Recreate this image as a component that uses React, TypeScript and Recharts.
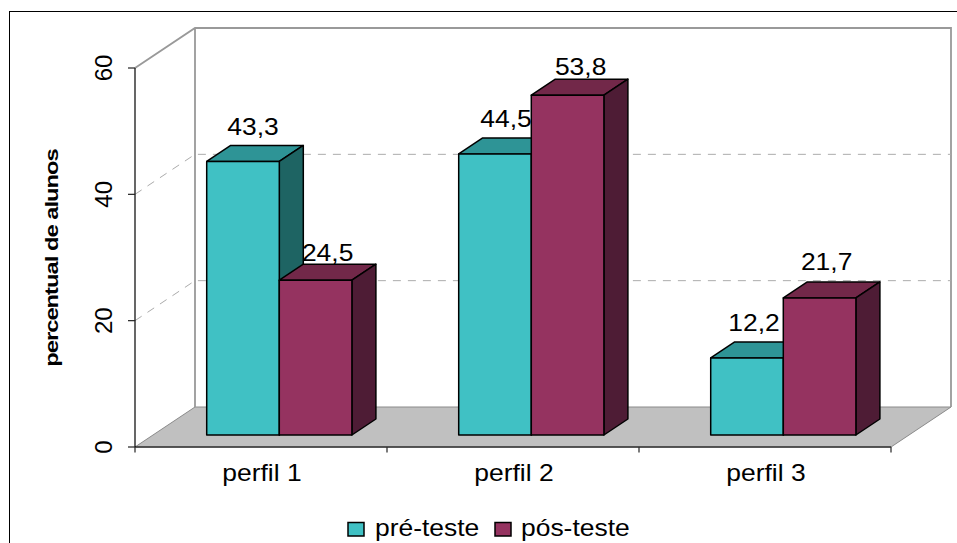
import React from 'react';
import { BarChart, Bar, XAxis, YAxis, Legend, ReferenceArea, LabelList, Label } from 'recharts';

const categories = ['perfil 1', 'perfil 2', 'perfil 3'];
const preTeste = [43.3, 44.5, 12.2];
const posTeste = [24.5, 53.8, 21.7];
const yTicks = [0, 20, 40, 60];
const gridValues = [20, 40];
const seriesNames = ['pré-teste', 'pós-teste'];
const data = categories.map((c, i) => ({ c, pre: preTeste[i], pos: posTeste[i] }));

const FONT = '"Liberation Sans", Arial, sans-serif';
const STRETCH = 1.15;
const BAR_SHIFT_X = 18.7;
const BAR_SHIFT_Y = -12;
const DEPTH_X = 24;
const DEPTH_Y = -16;
const BACK_X = 60;
const BACK_Y = -40;

const palette = {
  pre: { front: '#40C1C4', top: '#2E9496', side: '#1E6463' },
  pos: { front: '#953360', top: '#722849', side: '#4E1C35' },
};

const Stretched = ({ x, y, size, children, anchor = 'middle', weight }: any) => (
  <text
    transform={`translate(${x} ${y}) scale(${STRETCH} 1)`}
    textAnchor={anchor}
    fontFamily={FONT}
    fontSize={size}
    fontWeight={weight}
    fill="#000"
  >
    {children}
  </text>
);

const makeBox = (colors: any) => (props: any) => {
  const x = props.x + BAR_SHIFT_X;
  const y = props.y + BAR_SHIFT_Y;
  const w = props.width;
  const h = props.height;
  const line = { stroke: '#000', strokeWidth: 1.5, strokeLinejoin: 'round' as const };
  return (
    <g>
      <polygon
        points={`${x},${y} ${x + DEPTH_X},${y + DEPTH_Y} ${x + w + DEPTH_X},${y + DEPTH_Y} ${x + w},${y}`}
        fill={colors.top}
        {...line}
      />
      <polygon
        points={`${x + w},${y} ${x + w + DEPTH_X},${y + DEPTH_Y} ${x + w + DEPTH_X},${y + h + DEPTH_Y} ${x + w},${y + h}`}
        fill={colors.side}
        {...line}
      />
      <rect x={x} y={y} width={w} height={h} fill={colors.front} {...line} />
    </g>
  );
};

const Room = (props: any) => {
  const { x, y, width, height } = props;
  const b = y + height;
  const r = x + width;
  const wall = '#999999';
  const step = width / categories.length;
  return (
    <g>
      <polygon
        points={`${x},${b} ${x + BACK_X},${b + BACK_Y} ${r + BACK_X},${b + BACK_Y} ${r},${b}`}
        fill="#C0C0C0"
        stroke="#8a8a8a"
        strokeWidth={1}
      />
      <path
        d={`M${x},${y} L${x + BACK_X},${y + BACK_Y} H${r + BACK_X} V${b + BACK_Y} M${x + BACK_X},${y + BACK_Y} V${b + BACK_Y}`}
        fill="none"
        stroke={wall}
        strokeWidth={1.8}
      />
      {categories.concat('').map((_, i) => (
        <line key={i} x1={x + step * i} x2={x + step * i} y1={b} y2={b + 5.5} stroke="#222" strokeWidth={1.2} />
      ))}
    </g>
  );
};

const GridWall = (props: any) => {
  const { x, y, width } = props;
  return (
    <path
      d={`M${x},${y} L${x + BACK_X},${y + BACK_Y} H${x + width + BACK_X}`}
      fill="none"
      stroke="#ababab"
      strokeWidth={1}
      strokeDasharray="8 7"
    />
  );
};

const labelNudges: Record<string, [number, number][]> = {
  pre: [[10, -26], [11, -27], [7, -27]],
  pos: [[12, -19], [13, -20], [7, -28]],
};

const makeValueLabel = (key: string) => (props: any) => {
  const { x, y, width, value, index } = props;
  const [dx, dy] = labelNudges[key][index];
  const text = String(value).replace('.', ',');
  return (
    <Stretched x={x + BAR_SHIFT_X + width / 2 + dx} y={y + BAR_SHIFT_Y + dy} size={23}>
      {text}
    </Stretched>
  );
};

const XTick = ({ x, y, payload }: any) => (
  <Stretched x={x + 1} y={y + 26} size={23}>
    {payload.value}
  </Stretched>
);

const YTick = ({ x, y, payload }: any) => (
  <text
    transform={`translate(${x - 14} ${y}) rotate(-90)`}
    textAnchor="middle"
    fontFamily={FONT}
    fontSize={24}
    fill="#000"
  >
    {payload.value}
  </text>
);

const AxisTitle = ({ viewBox }: any) => (
  <text
    transform={`translate(58 ${viewBox.y + viewBox.height / 2 + 0.5}) rotate(-90) scale(1.25 1)`}
    textAnchor="middle"
    fontFamily={FONT}
    fontSize={19}
    fontWeight="bold"
    letterSpacing={-0.8}
    fill="#000"
  >
    percentual de alunos
  </text>
);

const legendSlots = [
  { box: 348, text: 375 },
  { box: 495, text: 521 },
];

const LegendRow = ({ payload }: any) => (
  <svg width={957} height={1} style={{ position: 'absolute', left: 0, top: 0, overflow: 'visible' }}>
    {(payload || []).map((item: any, i: number) => (
      <g key={item.value}>
        <rect x={legendSlots[i].box} y={522.5} width={16} height={13.5} fill={item.color} stroke="#000" strokeWidth={1.5} />
        <Stretched x={legendSlots[i].text} y={536} size={23} anchor="start">
          {item.value}
        </Stretched>
      </g>
    ))}
  </svg>
);

export default function App() {
  return (
    <div style={{ position: 'absolute', left: 0, top: 0, width: 957, height: 543, overflow: 'hidden', background: '#fff' }}>
      <div
        style={{
          position: 'absolute',
          left: 9,
          top: 11,
          width: 1000,
          height: 600,
          borderLeft: '1.5px solid #000',
          borderTop: '1.5px solid #000',
        }}
      />
      <BarChart
        width={957}
        height={543}
        data={data}
        barGap={0}
        barSize={72.6}
        margin={{ top: 68, right: 66, bottom: 56, left: 75 }}
        style={{ position: 'absolute', left: 0, top: 0 }}
      >
        <XAxis
          dataKey="c"
          height={40}
          tickLine={false}
          axisLine={{ stroke: '#333', strokeWidth: 1.5 }}
          tick={<XTick />}
          interval={0}
        />
        <YAxis
          domain={[0, 60]}
          ticks={yTicks}
          width={60}
          tickSize={7}
          tickLine={{ stroke: '#222', strokeWidth: 1.2 }}
          axisLine={{ stroke: '#000', strokeWidth: 1.2 }}
          tick={<YTick />}
        >
          <Label content={<AxisTitle />} />
        </YAxis>
        <ReferenceArea y1={0} y2={60} shape={<Room />} ifOverflow="visible" />
        {gridValues.map((v) => (
          <ReferenceArea key={v} y1={0} y2={v} shape={<GridWall />} ifOverflow="visible" />
        ))}
        <Legend
          content={<LegendRow />}
          wrapperStyle={{ position: 'absolute', left: 0, top: 0, bottom: 'auto', height: 0, width: 0 }}
        />
        <Bar dataKey="pre" name={seriesNames[0]} fill={palette.pre.front} shape={makeBox(palette.pre)} isAnimationActive={false}>
          <LabelList dataKey="pre" content={makeValueLabel('pre')} />
        </Bar>
        <Bar dataKey="pos" name={seriesNames[1]} fill={palette.pos.front} shape={makeBox(palette.pos)} isAnimationActive={false}>
          <LabelList dataKey="pos" content={makeValueLabel('pos')} />
        </Bar>
      </BarChart>
    </div>
  );
}
